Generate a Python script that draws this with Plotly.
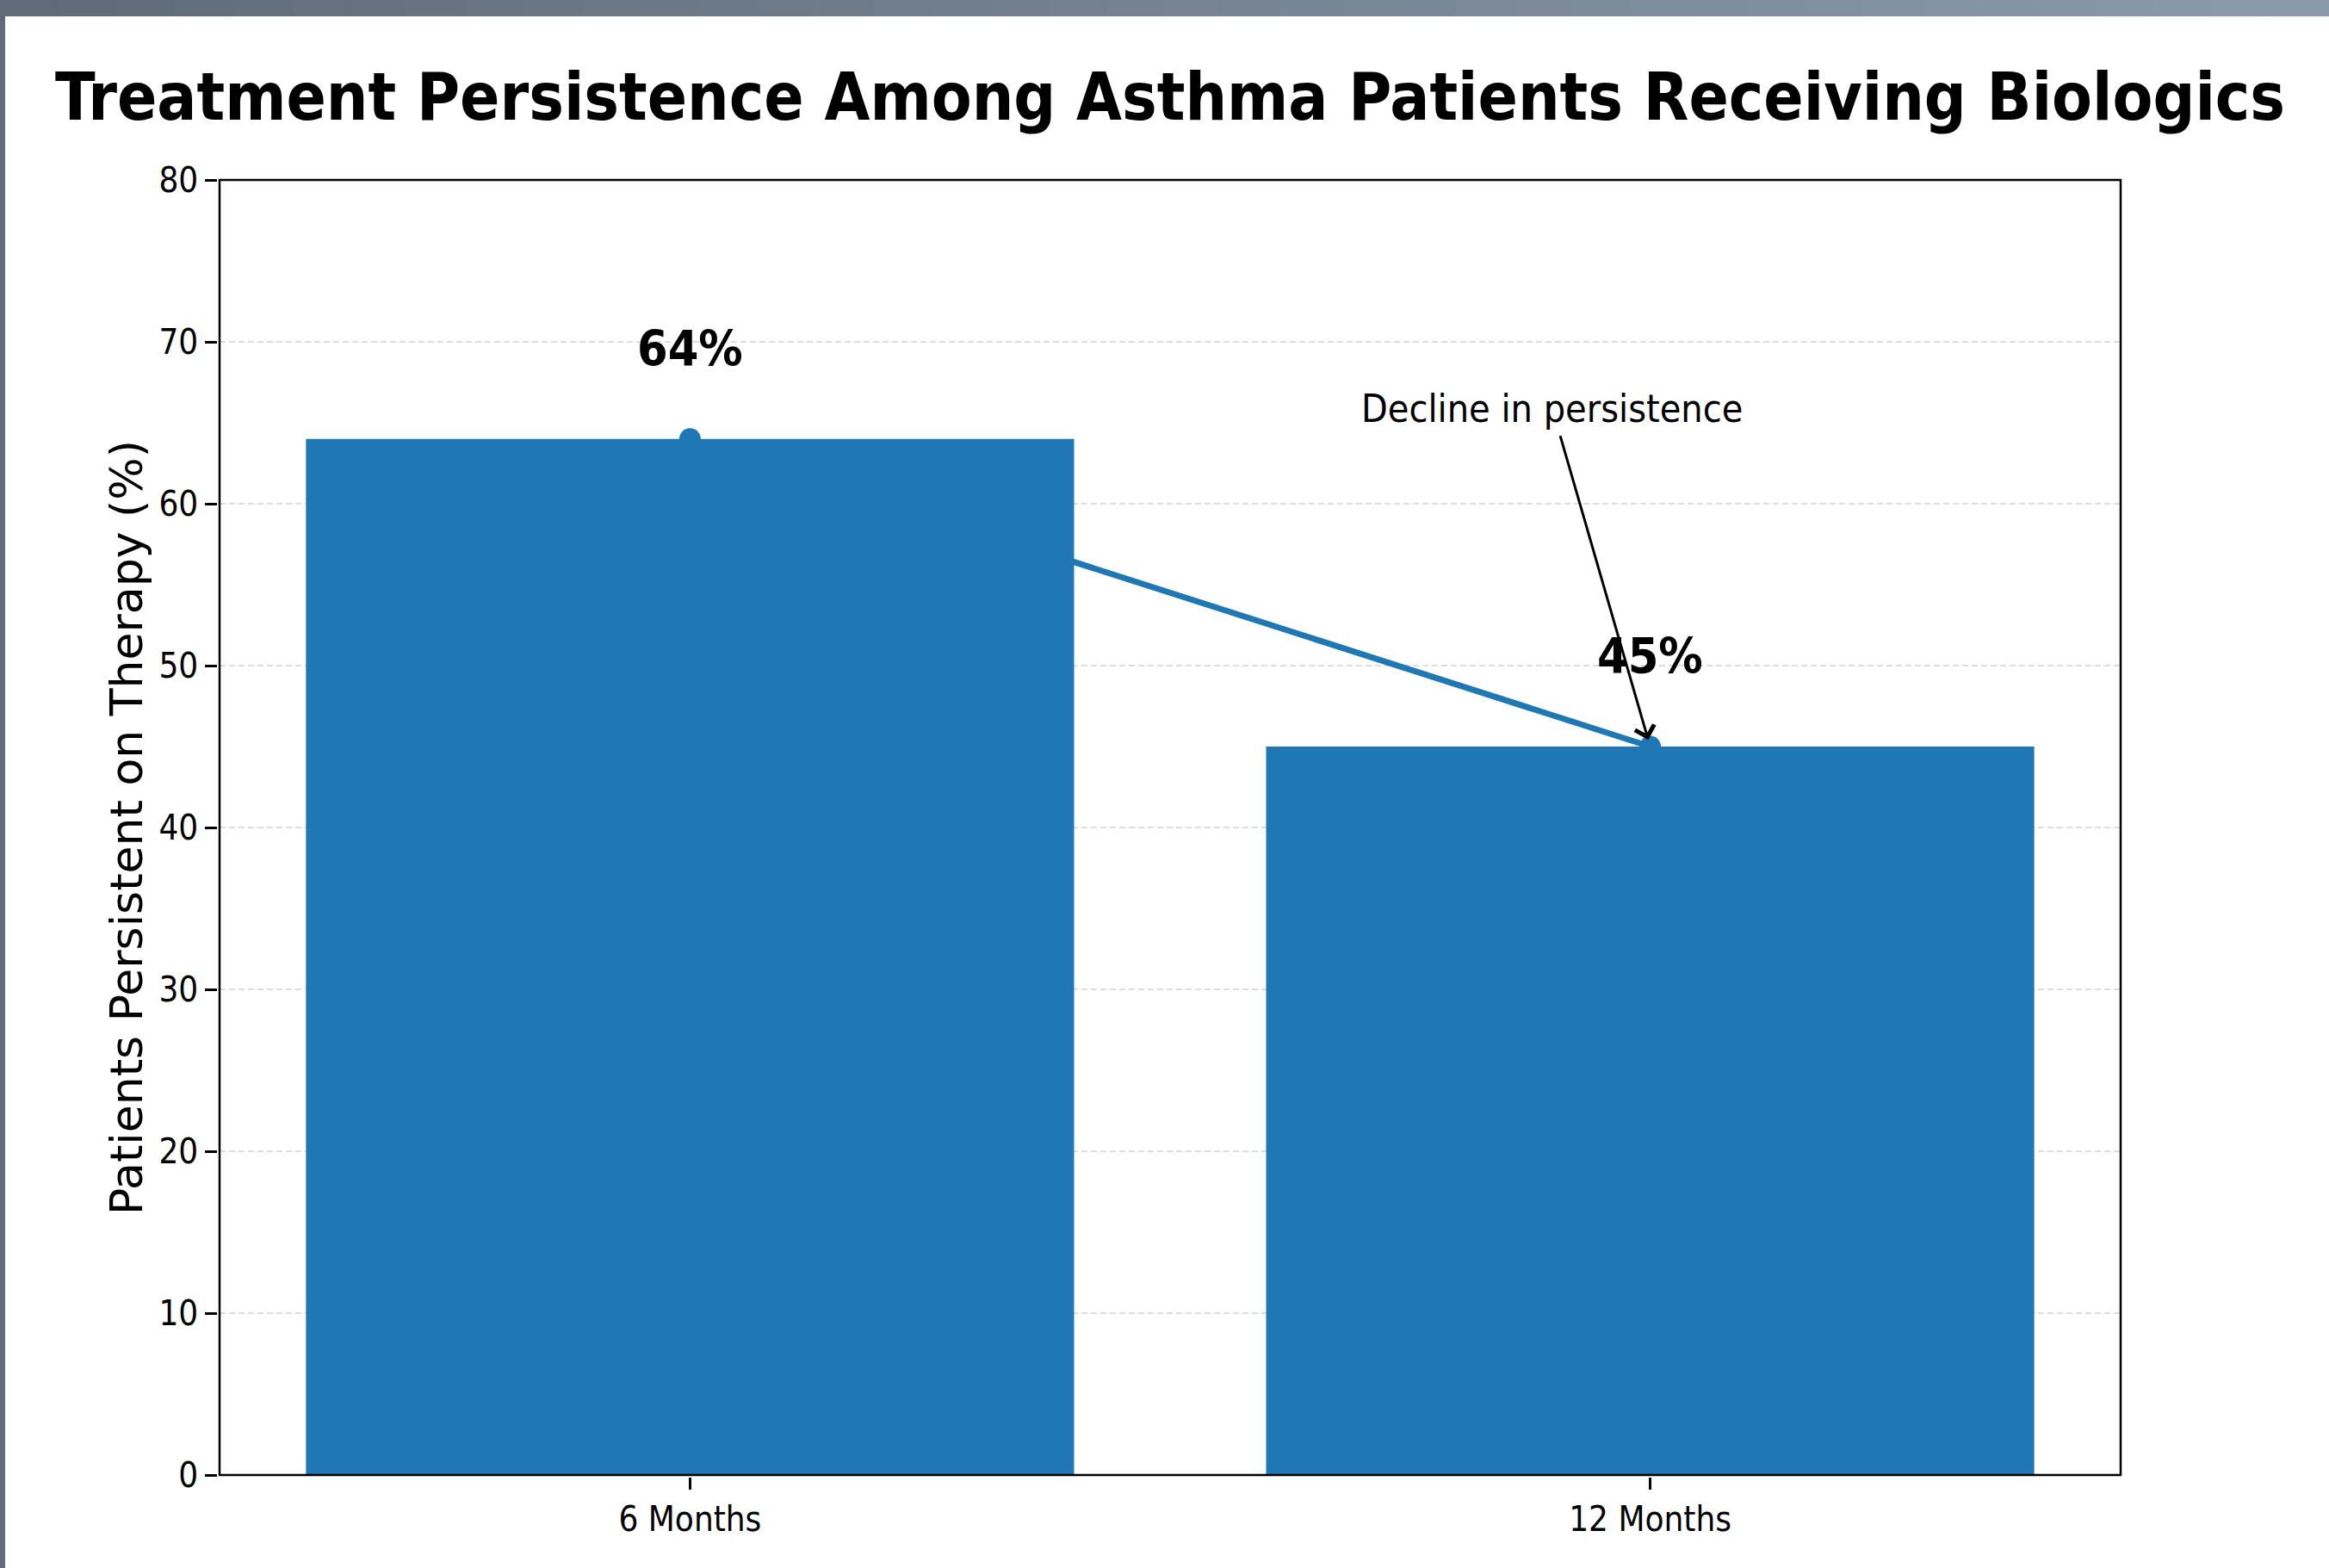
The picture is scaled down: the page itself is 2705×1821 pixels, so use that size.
import plotly.graph_objects as go

# ---- data ----
periods = ["6 Months", "12 Months"]
persistence = [64, 45]
value_labels = ["64%", "45%"]
title_text = "Treatment Persistence Among Asthma Patients Receiving Biologics"
y_title = "Patients Persistent on Therapy (%)"
annotation_text = "Decline in persistence"
y_ticks = [0, 10, 20, 30, 40, 50, 60, 70, 80]

W, H = 2705, 1821
L, R, T, B = 255, 2463, 209, 1713  # plot area in pixels
PW, PH = R - L, B - T

BLUE = "#1f77b4"
COND = "DejaVu Sans Condensed"

fig = go.Figure()

fig.add_trace(go.Bar(
    x=periods, y=persistence, width=0.8,
    marker=dict(color=BLUE, line=dict(width=0)),
    zorder=0, showlegend=False, hoverinfo="skip",
))
fig.add_trace(go.Scatter(
    x=periods, y=persistence, mode="lines+markers",
    line=dict(color=BLUE, width=7),
    marker=dict(color=BLUE, size=25),
    zorder=-1, showlegend=False, hoverinfo="skip",
))

annotations = []
for p, v, lab in zip(periods, persistence, value_labels):
    annotations.append(dict(
        x=p, y=v + 5.6, xref="x", yref="y", text=lab, showarrow=False,
        font=dict(family=COND, size=57, color="black", weight="bold"),
        xanchor="center", yanchor="middle",
    ))

annotations.append(dict(
    x=1, y=45, xref="x", yref="y",
    ax=0.898, ay=65.9, axref="x", ayref="y",
    text=annotation_text, showarrow=True, borderpad=6,
    arrowhead=4, arrowsize=1.5, arrowwidth=3, arrowcolor="black", standoff=8,
    font=dict(family=COND, size=44.5, color="black"),
))

# y axis title as annotation
annotations.append(dict(
    x=(147 - L) / PW, y=0.5, xref="paper", yref="paper",
    text=y_title, textangle=-90, showarrow=False,
    font=dict(family="DejaVu Sans", size=52, color="black"),
    xanchor="center", yanchor="middle",
))

shapes = []
# axes frame
shapes.append(dict(
    type="rect", xref="paper", yref="paper", x0=0, x1=1, y0=0, y1=1,
    line=dict(color="black", width=2.5), fillcolor="rgba(0,0,0,0)", layer="above",
))

# decorative frame (top gradient bar and left strip)
n = 40
c0 = (95, 107, 120)
c1 = (138, 154, 171)
for i in range(n):
    t = i / (n - 1)
    col = "rgb(%d,%d,%d)" % tuple(round(a + (b - a) * t) for a, b in zip(c0, c1))
    x0p = i * W / n
    x1p = (i + 1) * W / n + 1
    shapes.append(dict(
        type="rect", xref="paper", yref="paper",
        x0=(x0p - L) / PW, x1=(x1p - L) / PW,
        y0=(B - 19) / PH, y1=(B + 1) / PH,
        fillcolor=col, line=dict(width=0), layer="above",
    ))
shapes.append(dict(
    type="rect", xref="paper", yref="paper",
    x0=(-1 - L) / PW, x1=(6 - L) / PW,
    y0=(B - H - 1) / PH, y1=(B + 1) / PH,
    fillcolor="rgb(95,107,120)", line=dict(width=0), layer="above",
))

fig.update_layout(
    width=W, height=H,
    margin=dict(l=L, r=W - R, t=T, b=H - B, autoexpand=False),
    paper_bgcolor="white", plot_bgcolor="white",
    title=dict(
        text=title_text, x=1359 / W, xref="container", xanchor="center",
        y=1 - 112 / H, yref="container", yanchor="middle",
        font=dict(family=COND, size=76, color="black", weight="bold"),
    ),
    annotations=annotations,
    shapes=shapes,
    showlegend=False,
    bargap=0.2,
)

fig.update_xaxes(
    type="category", range=[-0.49, 1.49],
    showline=True, linecolor="black", linewidth=2.5, mirror=True,
    ticks="outside", ticklen=14, tickwidth=2.5, tickcolor="black",
    tickfont=dict(family=COND, size=40, color="black"),
    showgrid=False, automargin=False, zeroline=False,
)
fig.update_yaxes(
    range=[0, 80], tickvals=y_ticks,
    showline=True, linecolor="black", linewidth=2.5, mirror=True,
    ticks="outside", ticklen=14, tickwidth=2.5, tickcolor="black",
    tickfont=dict(family=COND, size=40, color="black"),
    showgrid=True, gridcolor="#dddddd", gridwidth=2, griddash="7px,4px",
    automargin=False, zeroline=False,
)

fig.write_html("out.html")
